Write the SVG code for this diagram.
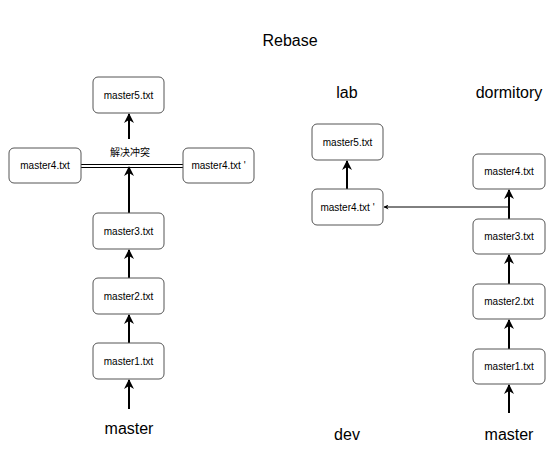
<svg xmlns="http://www.w3.org/2000/svg" width="554" height="456" viewBox="0 0 554 456">
<defs>
<style>
.box{fill:#fff;stroke:#555;stroke-width:1}
.t{font-family:"Liberation Sans",Arial,"Noto Sans CJK SC",sans-serif;font-size:10px;fill:#000;text-anchor:middle;dominant-baseline:central}
.lbl{font-family:"Liberation Sans",Arial,sans-serif;font-size:16px;fill:#000;text-anchor:middle}
.a{stroke:#000;stroke-width:2;fill:none;marker-end:url(#ah)}
.thin{stroke:#000;stroke-width:1;fill:none;marker-end:url(#ahs)}
</style>
<marker id="ah" viewBox="0 0 10 10" refX="9" refY="5" markerWidth="5" markerHeight="5" orient="auto" markerUnits="strokeWidth">
<path d="M0,0 L10,5 L0,10 L3,5 Z" fill="#000"/>
</marker>
<marker id="ahs" viewBox="0 0 10 10" refX="9" refY="5" markerWidth="5" markerHeight="5" orient="auto" markerUnits="strokeWidth">
<path d="M0,0 L10,5 L0,10 L3,5 Z" fill="#000"/>
</marker>
</defs>
<rect width="554" height="456" fill="#fff"/>
<text class="lbl" x="290" y="46">Rebase</text>
<text class="lbl" x="347" y="98">lab</text>
<text class="lbl" x="509" y="98">dormitory</text>
<text class="lbl" x="129" y="434">master</text>
<text class="lbl" x="347" y="440">dev</text>
<text class="lbl" x="509" y="440">master</text>

<g id="connectors">
<line class="a" x1="129" y1="409" x2="129" y2="380"/>
<line class="a" x1="129" y1="343" x2="129" y2="315"/>
<line class="a" x1="129" y1="278" x2="129" y2="250"/>
<line class="a" x1="129" y1="213" x2="129" y2="167"/>
<line class="a" x1="129" y1="139" x2="129" y2="114"/>
<line x1="81" y1="164.5" x2="183" y2="164.5" stroke="#000" stroke-width="1"/>
<line x1="81" y1="167.5" x2="183" y2="167.5" stroke="#000" stroke-width="1"/>
<text class="t" x="130" y="152">解决冲突</text>
<line class="a" x1="509" y1="413" x2="509" y2="385"/>
<line class="a" x1="509" y1="349" x2="509" y2="320"/>
<line class="a" x1="509" y1="284" x2="509" y2="255"/>
<line class="a" x1="509" y1="219" x2="509" y2="190"/>
<line class="thin" x1="509" y1="207" x2="384" y2="207"/>
<line class="a" x1="347" y1="189" x2="347" y2="161"/>
</g>

<g id="l-master5"><rect class="box" x="93" y="77" width="71" height="36" rx="5"/><text class="t" x="128.5" y="95">master5.txt</text></g>
<g id="l-master4"><rect class="box" x="9" y="148" width="72" height="35" rx="5"/><text class="t" x="45" y="165.5">master4.txt</text></g>
<g id="l-master4p"><rect class="box" x="183" y="148" width="71" height="35" rx="5"/><text class="t" x="218.5" y="165.5">master4.txt '</text></g>
<g id="l-master3"><rect class="box" x="93" y="213" width="71" height="36" rx="5"/><text class="t" x="128.5" y="231">master3.txt</text></g>
<g id="l-master2"><rect class="box" x="93" y="278" width="71" height="36" rx="5"/><text class="t" x="128.5" y="296">master2.txt</text></g>
<g id="l-master1"><rect class="box" x="93" y="343" width="71" height="36" rx="5"/><text class="t" x="128.5" y="361">master1.txt</text></g>

<g id="lab-master5"><rect class="box" x="312" y="124" width="71" height="36" rx="5"/><text class="t" x="347.5" y="142">master5.txt</text></g>
<g id="lab-master4p"><rect class="box" x="312" y="189" width="71" height="36" rx="5"/><text class="t" x="347.5" y="207">master4.txt '</text></g>

<g id="d-master4"><rect class="box" x="473" y="154" width="72" height="35" rx="5"/><text class="t" x="509" y="171.5">master4.txt</text></g>
<g id="d-master3"><rect class="box" x="473" y="219" width="72" height="35" rx="5"/><text class="t" x="509" y="236.5">master3.txt</text></g>
<g id="d-master2"><rect class="box" x="473" y="284" width="72" height="35" rx="5"/><text class="t" x="509" y="301.5">master2.txt</text></g>
<g id="d-master1"><rect class="box" x="473" y="349" width="72" height="35" rx="5"/><text class="t" x="509" y="366.5">master1.txt</text></g>
</svg>
